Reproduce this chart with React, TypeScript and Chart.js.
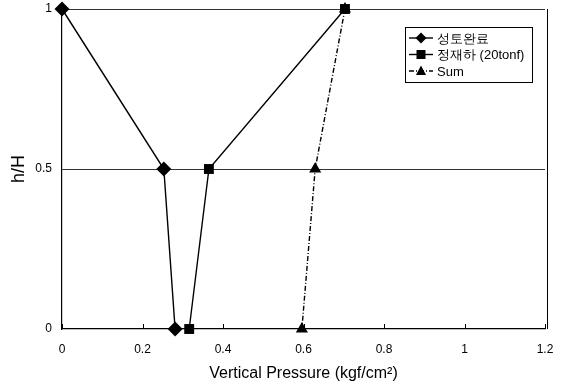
import React, { useEffect, useRef } from "react";
import { Chart, registerables } from "chart.js";

Chart.register(...registerables);

const seriesNames = ["성토완료", "정재하 (20tonf)", "Sum"];
const hH = [1, 0.5, 0];
const fillDone = [0, 0.253, 0.281];
const staticLoad = [0.703, 0.365, 0.316];
const sumVals = [0.703, 0.629, 0.596];
const xTicks = [0, 0.2, 0.4, 0.6, 0.8, 1, 1.2];
const yTicks = [0, 0.5, 1];

const FONT = "'Liberation Sans', Arial, sans-serif";

const styles = [
  { pointStyle: "rectRot", radius: 7.5, dash: [] as number[] },
  { pointStyle: "rect", radius: 7, dash: [] as number[] },
  { pointStyle: "triangle", radius: 7, dash: [5, 2, 1, 2] },
];

export default function App() {
  const ref = useRef<HTMLCanvasElement>(null);
  useEffect(() => {
    document.body.style.margin = "0";
    const all = [fillDone, staticLoad, sumVals];
    const datasets = all.map((vals, i) => ({
      label: seriesNames[i],
      data: vals.map((v, j) => ({ x: v, y: hH[j] })),
      showLine: true,
      borderColor: "#000",
      backgroundColor: "#000",
      borderWidth: 1.4,
      borderDash: styles[i].dash,
      pointStyle: styles[i].pointStyle as any,
      pointRadius: styles[i].radius,
      pointBorderWidth: 0,
      clip: false as any,
    }));

    const deco = {
      id: "deco",
      afterDraw(chart: any) {
        const ctx = chart.ctx;
        const { right, top, bottom } = chart.chartArea;
        const xs = chart.scales.x;
        ctx.save();
        ctx.strokeStyle = "#000";
        ctx.lineWidth = 1;
        xTicks.forEach((t) => {
          const px = Math.round(xs.getPixelForValue(t)) + 0.5;
          ctx.beginPath();
          ctx.moveTo(px, bottom);
          ctx.lineTo(px, bottom - 5);
          ctx.stroke();
        });
        ctx.beginPath();
        ctx.moveTo(right + 2.5, top);
        ctx.lineTo(right + 2.5, bottom);
        ctx.stroke();
        const bx = 405, by = 27, bw = 127, bh = 55;
        ctx.fillStyle = "#fff";
        ctx.fillRect(bx, by, bw, bh);
        ctx.strokeRect(bx + 0.5, by + 0.5, bw, bh);
        ctx.font = `13px ${FONT}`;
        ctx.textBaseline = "middle";
        seriesNames.forEach((name, i) => {
          const y = by + 11 + i * 16.5;
          ctx.setLineDash(styles[i].dash);
          ctx.lineWidth = 1.4;
          ctx.beginPath();
          ctx.moveTo(bx + 4, y);
          ctx.lineTo(bx + 28, y);
          ctx.stroke();
          ctx.setLineDash([]);
          ctx.fillStyle = "#000";
          const cx = bx + 16;
          ctx.beginPath();
          if (i === 0) {
            ctx.moveTo(cx, y - 5.5);
            ctx.lineTo(cx + 5.5, y);
            ctx.lineTo(cx, y + 5.5);
            ctx.lineTo(cx - 5.5, y);
          } else if (i === 1) {
            ctx.rect(cx - 4.5, y - 4.5, 9, 9);
          } else {
            ctx.moveTo(cx, y - 5.5);
            ctx.lineTo(cx + 5, y + 4);
            ctx.lineTo(cx - 5, y + 4);
          }
          ctx.closePath();
          ctx.fill();
          ctx.fillText(name, bx + 32, y + 1);
        });
        ctx.restore();
      },
    };

    const chart = new Chart(ref.current!, {
      type: "scatter",
      data: { datasets },
      plugins: [deco],
      options: {
        animation: false,
        responsive: false,
        layout: { autoPadding: false, padding: { left: 0, right: 22, top: 9, bottom: 4 } },
        plugins: { legend: { display: false }, tooltip: { enabled: false } },
        scales: {
          x: {
            type: "linear",
            min: 0,
            max: 1.2,
            afterBuildTicks: (s: any) => {
              s.ticks = xTicks.map((v) => ({ value: v }));
            },
            afterFit: (s: any) => {
              s.height = 54;
              s.paddingLeft = 0;
              s.paddingRight = 0;
            },
            grid: { display: false, drawTicks: false },
            border: { display: true, color: "#000", width: 1.2 },
            ticks: {
              color: "#000",
              padding: 13,
              font: { family: FONT, size: 12 },
              callback: (v: any) => String(v),
            },
            title: {
              display: true,
              text: "Vertical Pressure (kgf/cm²)",
              color: "#000",
              font: { family: FONT, size: 16 },
              padding: { top: 0, bottom: 0 },
            },
          },
          y: {
            type: "linear",
            min: 0,
            max: 1,
            afterBuildTicks: (s: any) => {
              s.ticks = yTicks.map((v) => ({ value: v }));
            },
            afterFit: (s: any) => {
              s.width = 62;
              s.paddingTop = 0;
              s.paddingBottom = 0;
            },
            grid: {
              display: true,
              color: (c: any) => (c.tick && c.tick.value === 0 ? "rgba(0,0,0,0)" : "#333"),
              lineWidth: 1,
              drawTicks: false,
            },
            border: { display: true, color: "#000", width: 1.2 },
            ticks: {
              color: "#000",
              padding: 10,
              font: { family: FONT, size: 12 },
              callback: (v: any) => String(v),
            },
            title: {
              display: true,
              text: "h/H",
              color: "#000",
              font: { family: FONT, size: 18 },
              padding: { top: 8, bottom: 0 },
            },
          },
        },
      },
    });
    return () => chart.destroy();
  }, []);
  return <canvas ref={ref} width={567} height={387} style={{ display: "block" }} />;
}
